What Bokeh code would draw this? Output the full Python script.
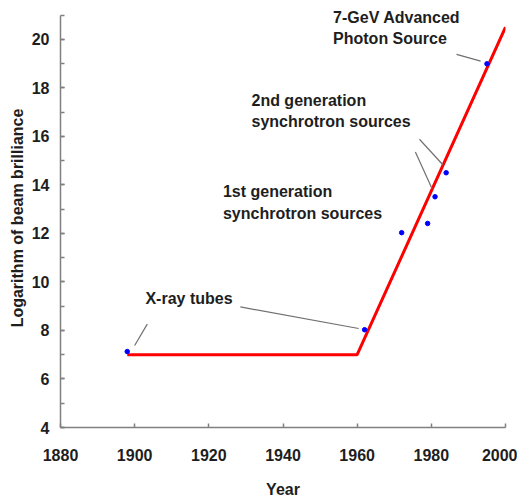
from bokeh.plotting import figure
from bokeh.models import ColumnDataSource, SingleIntervalTicker
from bokeh.core.properties import value
from bokeh.embed import file_html
from bokeh.resources import INLINE

# Trend line (red)
trend_year = [1898, 1960, 2000]
trend_val = [7.0, 7.0, 20.5]

# Source data points (blue)
pt_year = [1898, 1962, 1972, 1979, 1981, 1984, 1995]
pt_val = [7.13, 8.03, 12.03, 12.41, 13.51, 14.5, 18.99]

# Annotation texts
ann_text = ["7-GeV Advanced", "Photon Source",
            "2nd generation", "synchrotron sources",
            "1st generation", "synchrotron sources",
            "X-ray tubes"]
ann_x = [1953.5, 1953.5, 1931.5, 1931.5, 1923.8, 1923.8, 1902.9]
ann_y = [20.91, 20.05, 17.48, 16.62, 13.71, 12.82, 9.32]

# Leader lines
lead_x0 = [1928.5, 1903.4, 1976.8, 1975.7, 1986.8]
lead_y0 = [8.97, 8.26, 15.88, 15.36, 19.38]
lead_x1 = [1960.4, 1900.0, 1983.1, 1980.2, 1993.3]
lead_y1 = [8.08, 7.38, 14.83, 13.84, 19.10]

FONT = "Liberation Sans"
AXIS_COLOR = "#808080"
TEXT_COLOR = "#1e1e1e"

p = figure(width=517, height=500, x_range=(1880, 2000), y_range=(4, 21.27),
           output_backend="svg", toolbar_location=None,
           min_border_left=60, min_border_right=12, min_border_top=8,
           min_border_bottom=69)
p.outline_line_color = None
p.xgrid.visible = False
p.ygrid.visible = False
p.background_fill_color = "white"
p.border_fill_color = "white"

p.line(trend_year, trend_val, line_color="#ff0000", line_width=3)
p.scatter(pt_year, pt_val, marker="circle", size=4.5, fill_color="#0000ff",
          line_color="#0000ff")

p.segment(x0=lead_x0, y0=lead_y0, x1=lead_x1, y1=lead_y1,
          line_color="#707070", line_width=1.2)

src = ColumnDataSource(dict(x=ann_x, y=ann_y, t=ann_text))
p.text(x="x", y="y", text="t", source=src, text_font=value(FONT),
       text_font_size="16px", text_font_style="bold", text_color=TEXT_COLOR,
       text_align="left", text_baseline="middle")

# X axis
xa = p.xaxis[0]
xa.ticker = SingleIntervalTicker(interval=20, num_minor_ticks=0)
xa.bounds = (1880, 2000)
xa.axis_line_color = AXIS_COLOR
xa.axis_line_width = 1.5
xa.major_tick_line_color = AXIS_COLOR
xa.major_tick_line_width = 1.5
xa.major_tick_in = 4
xa.major_tick_out = 0
xa.minor_tick_line_color = None
xa.major_label_text_font = FONT
xa.major_label_text_font_size = "16px"
xa.major_label_text_font_style = "bold"
xa.major_label_text_color = TEXT_COLOR
xa.major_label_standoff = 21
xa.axis_label = "Year"
xa.axis_label_text_font = FONT
xa.axis_label_text_font_size = "16px"
xa.axis_label_text_font_style = "bold"
xa.axis_label_text_color = TEXT_COLOR
xa.axis_label_standoff = 17

# Y axis
ya = p.yaxis[0]
ya.ticker = SingleIntervalTicker(interval=2, num_minor_ticks=2)
ya.bounds = (4, 21)
ya.axis_line_color = AXIS_COLOR
ya.axis_line_width = 1.5
ya.major_tick_line_color = AXIS_COLOR
ya.major_tick_line_width = 1.5
ya.major_tick_in = 4
ya.major_tick_out = 0
ya.minor_tick_line_color = AXIS_COLOR
ya.minor_tick_line_width = 1.5
ya.minor_tick_in = 4
ya.minor_tick_out = 0
ya.major_label_text_font = FONT
ya.major_label_text_font_size = "16px"
ya.major_label_text_font_style = "bold"
ya.major_label_text_color = TEXT_COLOR
ya.major_label_standoff = 11
ya.axis_label = "Logarithm of beam brilliance"
ya.axis_label_text_font = FONT
ya.axis_label_text_font_size = "16px"
ya.axis_label_text_font_style = "bold"
ya.axis_label_text_color = TEXT_COLOR
ya.axis_label_standoff = 3

open("out.html", "w").write(file_html(p, INLINE))
